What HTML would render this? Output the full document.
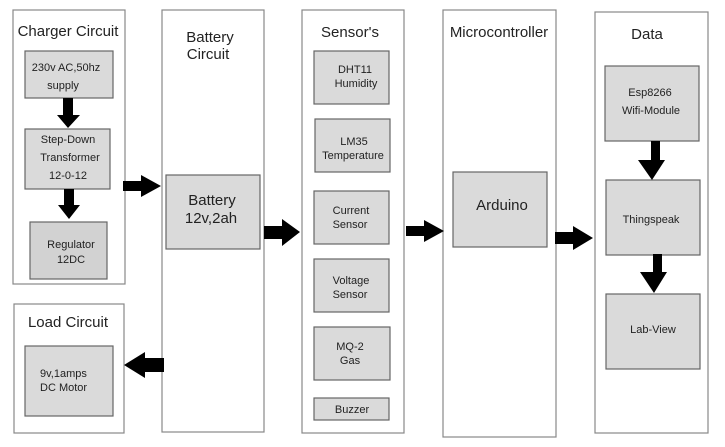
<!DOCTYPE html>
<html><head><meta charset="utf-8"><style>
html,body{margin:0;padding:0;background:#fff}
svg{display:block}
text{font-family:"Liberation Sans",Arial,sans-serif;fill:#222;text-anchor:middle}
.p{fill:#fff;stroke:#888;stroke-width:1.2}
.b{fill:#dadada;stroke:#666;stroke-width:1.2}
.s{font-size:11px}
.t{font-size:15px}
</style></head><body>
<svg width="725" height="447" viewBox="0 0 725 447">
<!-- panels -->
<rect class="p" x="13" y="10" width="112" height="274"/>
<rect class="p" x="14" y="304" width="110" height="129"/>
<rect class="p" x="162" y="10" width="102" height="422"/>
<rect class="p" x="302" y="10" width="102" height="423"/>
<rect class="p" x="443" y="10" width="113" height="427"/>
<rect class="p" x="595" y="12" width="113" height="421"/>
<!-- titles -->
<text class="t" x="68" y="36">Charger Circuit</text>
<text class="t" x="68" y="327">Load Circuit</text>
<text class="t" x="210" y="42">Battery</text>
<text class="t" x="208" y="59">Circuit</text>
<text class="t" x="350" y="37">Sensor's</text>
<text class="t" x="499" y="37">Microcontroller</text>
<text class="t" x="647" y="39">Data</text>
<!-- boxes -->
<rect class="b" x="25" y="51" width="88" height="47"/>
<text class="s" x="66" y="71">230v AC,50hz</text>
<text class="s" x="63" y="89">supply</text>
<rect class="b" x="25" y="129" width="85" height="60"/>
<text class="s" x="68" y="143">Step-Down</text>
<text class="s" x="70" y="161">Transformer</text>
<text class="s" x="68" y="179">12-0-12</text>
<rect class="b" x="30" y="222" width="77" height="57" style="fill:#d2d2d2"/>
<text class="s" x="71" y="248">Regulator</text>
<text class="s" x="71" y="263">12DC</text>
<rect class="b" x="25" y="346" width="88" height="70"/>
<text class="s" x="55" y="377" style="text-anchor:start" dx="-15">9v,1amps</text>
<text class="s" x="40" y="391" style="text-anchor:start">DC Motor</text>
<rect class="b" x="166" y="175" width="94" height="74"/>
<text class="t" x="212" y="205">Battery</text>
<text class="t" x="211" y="223">12v,2ah</text>
<rect class="b" x="314" y="51" width="75" height="53"/>
<text class="s" x="355" y="73">DHT11</text>
<text class="s" x="356" y="87">Humidity</text>
<rect class="b" x="315" y="119" width="75" height="53"/>
<text class="s" x="354" y="145">LM35</text>
<text class="s" x="353" y="159">Temperature</text>
<rect class="b" x="314" y="191" width="75" height="53"/>
<text class="s" x="351" y="214">Current</text>
<text class="s" x="350" y="228">Sensor</text>
<rect class="b" x="314" y="259" width="75" height="53"/>
<text class="s" x="351" y="284">Voltage</text>
<text class="s" x="350" y="298">Sensor</text>
<rect class="b" x="314" y="327" width="76" height="53"/>
<text class="s" x="350" y="350">MQ-2</text>
<text class="s" x="350" y="364">Gas</text>
<rect class="b" x="314" y="398" width="75" height="22"/>
<text class="s" x="352" y="413">Buzzer</text>
<rect class="b" x="453" y="172" width="94" height="75"/>
<text class="t" x="502" y="210">Arduino</text>
<rect class="b" x="605" y="66" width="94" height="75"/>
<text class="s" x="650" y="96">Esp8266</text>
<text class="s" x="651" y="114">Wifi-Module</text>
<rect class="b" x="606" y="180" width="94" height="75"/>
<text class="s" x="651" y="223">Thingspeak</text>
<rect class="b" x="606" y="294" width="94" height="75"/>
<text class="s" x="653" y="333">Lab-View</text>
<!-- arrows -->
<g fill="#000">
<polygon points="63,98 73,98 73,115 80,115 68,128 57,115 63,115"/>
<polygon points="64,189 74,189 74,205 80,205 69,219 58,205 64,205"/>
<polygon points="123,181 141,181 141,175 161,186 141,197 141,191 123,191"/>
<polygon points="164,358 145,358 145,352 124,365 145,378 145,372 164,372"/>
<polygon points="264,226 282,226 282,219 300,232 282,246 282,239 264,239"/>
<polygon points="406,226 424,226 424,220 444,231 424,242 424,236 406,236"/>
<polygon points="555,232 573,232 573,226 593,238 573,250 573,244 555,244"/>
<polygon points="651,141 660,141 660,160 665,160 652,180 638,160 651,160"/>
<polygon points="653,254 662,254 662,272 667,272 654,293 640,272 653,272"/>
</g>
</svg>
</body></html>
